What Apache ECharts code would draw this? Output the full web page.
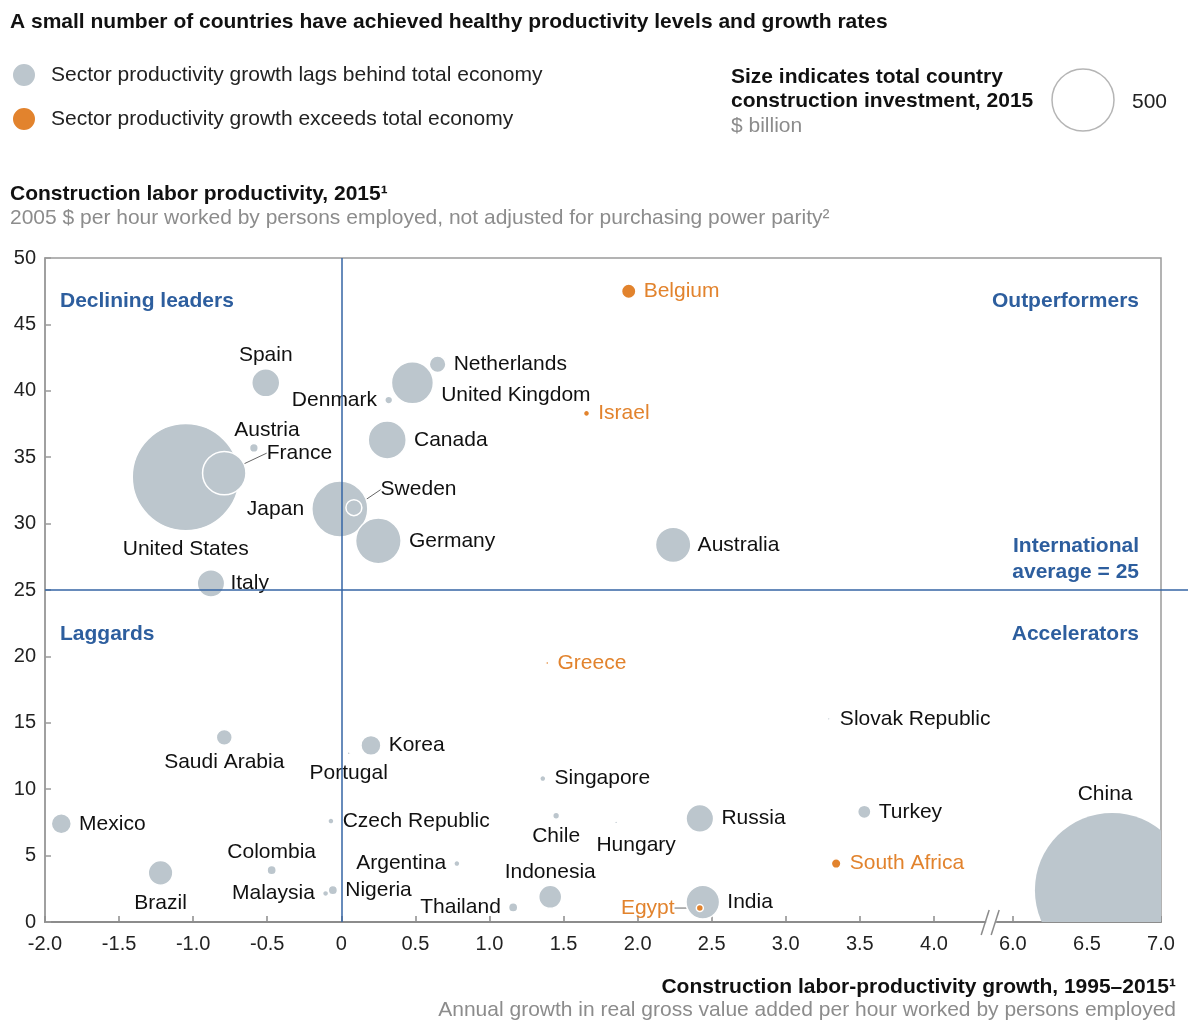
<!DOCTYPE html>
<html>
<head>
<meta charset="utf-8">
<script src="https://cdn.jsdelivr.net/npm/echarts@6/dist/echarts.min.js"></script>
<style>
  html, body { margin: 0; padding: 0; background: #fff; }
  #chart { width: 1200px; height: 1034px; }
</style>
</head>
<body>
<div id="chart"></div>
<script>
// values
var countries = ['United States', 'France', 'Austria', 'Spain', 'Denmark', 'United Kingdom', 'Netherlands',
  'Canada', 'Japan', 'Sweden', 'Germany', 'Italy', 'Australia', 'Slovak Republic', 'Saudi Arabia', 'Korea',
  'Portugal', 'Singapore', 'Mexico', 'Czech Republic', 'Chile', 'Hungary', 'Russia', 'Turkey', 'China',
  'Colombia', 'Argentina', 'Indonesia', 'Brazil', 'Malaysia', 'Nigeria', 'Thailand', 'India',
  'Belgium', 'Israel', 'Greece', 'South Africa', 'Egypt'];
var growth = [-1.05, -0.79, -0.59, -0.51, 0.32, 0.48, 0.65,
  0.31, -0.01, 0.085, 0.25, -0.88, 2.24, 3.29, -0.79, 0.20,
  0.05, 1.36, -1.89, -0.07, 1.45, 1.855, 2.42, 3.53, 6.67,
  -0.47, 0.78, 1.41, -1.22, -0.106, -0.057, 1.16, 2.44,
  1.94, 1.655, 1.39, 3.34, 2.42];
var productivity = [33.5, 33.8, 35.7, 40.6, 39.3, 40.6, 42.0,
  36.3, 31.1, 31.2, 28.7, 25.5, 28.4, 15.3, 13.9, 13.3,
  12.7, 10.8, 7.4, 7.6, 8.0, 7.5, 7.8, 8.3, 2.4,
  3.9, 4.4, 1.9, 3.7, 2.15, 2.4, 1.1, 1.5,
  47.5, 38.3, 19.5, 4.4, 1.05];
var investment = [1490, 245, 10, 102, 8, 229, 36,
  188, 408, 33, 270, 98, 163, 1, 33, 52,
  1.2, 4.7, 52, 4.7, 6, 1, 99, 23, 3100,
  11, 4.7, 69, 79, 4.7, 11, 11, 147,
  27, 4.7, 1.2, 12, 6.4];
// sector productivity growth exceeds total economy
var exceeds = ['Belgium', 'Israel', 'Greece', 'South Africa', 'Egypt'];
var clipped = ['China'];
var xTickValues = [-2, -1.5, -1, -0.5, 0, 0.5, 1, 1.5, 2, 2.5, 3, 3.5, 4, 6, 6.5, 7];
var internationalAverage = 25;
var sizeLegendValue = 500;

var GREY = '#bcc6cd';
var ORANGE = '#e2832d';
var BLUE = '#2d5e9e';
var FONT = '"Liberation Sans", Arial, sans-serif';
var nameGrey = 'Sector productivity growth lags behind total economy';
var nameOrange = 'Sector productivity growth exceeds total economy';

function diam(v) { return 62 * Math.sqrt(v / sizeLegendValue); }

// label placement per country
var labelCfg = {
  'United States': { pos: 'bottom', dist: 7 },
  'France': { pos: 'right', dist: 4, dx: 16, dy: -20, line: true },
  'Austria': { pos: 'top', dist: 2, dx: 13 },
  'Spain': { pos: 'top', dist: 2 },
  'Denmark': { pos: 'left', dist: 5, bg: true },
  'United Kingdom': { pos: 'right', dist: 7, dy: 12 },
  'Netherlands': { pos: 'right', dist: 7 },
  'Canada': { pos: 'right', dist: 7 },
  'Japan': { pos: 'left', dist: 7 },
  'Sweden': { pos: 'right', dist: 4, dx: 14, dy: -18, line: true },
  'Germany': { pos: 'right', dist: 7 },
  'Italy': { pos: 'right', dist: 3, bg: true },
  'Australia': { pos: 'right', dist: 6 },
  'Slovak Republic': { pos: 'right', dist: 9 },
  'Saudi Arabia': { pos: 'bottom', dist: 6 },
  'Korea': { pos: 'right', dist: 7 },
  'Portugal': { pos: 'bottom', dist: 7 },
  'Singapore': { pos: 'right', dist: 8 },
  'Mexico': { pos: 'right', dist: 7 },
  'Czech Republic': { pos: 'right', dist: 8 },
  'Chile': { pos: 'bottom', dist: 6 },
  'Hungary': { pos: 'bottom', dist: 10, dx: 20 },
  'Russia': { pos: 'right', dist: 7 },
  'Turkey': { pos: 'right', dist: 7 },
  'Colombia': { pos: 'top', dist: 2 },
  'Argentina': { pos: 'left', dist: 7 },
  'Indonesia': { pos: 'top', dist: 2 },
  'Brazil': { pos: 'bottom', dist: 7 },
  'Malaysia': { pos: 'left', dist: 7 },
  'Nigeria': { pos: 'right', dist: 7 },
  'Thailand': { pos: 'left', dist: 7 },
  'India': { pos: 'right', dist: 7 },
  'Belgium': { pos: 'right', dist: 7 },
  'Israel': { pos: 'right', dist: 8 },
  'Greece': { pos: 'right', dist: 8 },
  'South Africa': { pos: 'right', dist: 8 },
  'Egypt': { pos: 'left', dist: 4, dx: -17, line: true }
};

function makeItem(i) {
  var n = countries[i];
  var c = labelCfg[n] || { pos: 'right', dist: 7 };
  var item = {
    name: n,
    value: [growth[i], productivity[i], investment[i]],
    label: { position: c.pos, distance: c.dist }
  };
  if (c.bg) { item.label.backgroundColor = '#fff'; item.label.padding = [1, 2]; }
  if (c.line) item.labelLine = { show: true, lineStyle: { color: '#666', width: 1 } };
  return item;
}

var greyData = [], orangeData = [], clipData = [];
countries.forEach(function (n, i) {
  if (clipped.indexOf(n) >= 0) clipData.push({ name: n, value: [growth[i], productivity[i], investment[i]] });
  else if (exceeds.indexOf(n) >= 0) orangeData.push(makeItem(i));
  else greyData.push(makeItem(i));
});
// big bubbles underneath
function bySize(a, b) { return b.value[2] - a.value[2]; }
greyData.sort(bySize);
orangeData.sort(bySize);

function labelLayout(p) {
  var c = labelCfg[p.text];
  if (c && (c.dx || c.dy)) return { dx: c.dx || 0, dy: c.dy || 0 };
  return {};
}

var bubbleSeries = function (name, color, data, labelColor) {
  return {
    name: name,
    type: 'scatter',
    z: 3,
    data: data,
    symbol: 'circle',
    symbolSize: function (v) { return diam(v[2]); },
    itemStyle: { color: color, opacity: 1, borderColor: '#fff', borderWidth: 1.5 },
    label: {
      show: true,
      formatter: '{b}',
      color: labelColor,
      fontFamily: FONT,
      fontSize: 21
    },
    labelLine: { show: false },
    labelLayout: labelLayout,
    emphasis: { disabled: true },
    silent: true
  };
};

var txt = function (text, x, y, opts) {
  var s = {
    text: text, x: x, y: y,
    font: (opts.bold ? 'bold ' : '') + opts.size + 'px ' + FONT,
    fill: opts.color || '#111',
    textAlign: opts.align || 'left',
    textVerticalAlign: 'middle'
  };
  return { type: 'text', silent: true, style: s };
};

var graphics = [
  txt('A small number of countries have achieved healthy productivity levels and growth rates', 10, 22, { bold: true, size: 21 }),
  txt('Size indicates total country', 731, 77, { bold: true, size: 21 }),
  txt('construction investment, 2015', 731, 101, { bold: true, size: 21 }),
  txt('$ billion', 731, 126, { size: 21, color: '#8c8c8c' }),
  {
    type: 'circle', silent: true,
    shape: { cx: 1083, cy: 100, r: diam(sizeLegendValue) / 2 },
    style: { fill: '#fff', stroke: '#b5b5b5', lineWidth: 1.5 }
  },
  txt(String(sizeLegendValue), 1132, 102, { size: 21, color: '#222' }),
  txt('Construction labor productivity, 2015\u00b9', 10, 194, { bold: true, size: 21 }),
  txt('2005 $ per hour worked by persons employed, not adjusted for purchasing power parity\u00b2', 10, 218, { size: 21, color: '#8c8c8c' }),
  txt('Construction labor-productivity growth, 1995\u20132015\u00b9', 1176, 987, { bold: true, size: 21, align: 'right' }),
  txt('Annual growth in real gross value added per hour worked by persons employed', 1176, 1010, { size: 21, color: '#8c8c8c', align: 'right' }),
  txt('Declining leaders', 60, 301, { bold: true, size: 21, color: BLUE }),
  txt('Outperformers', 1139, 301, { bold: true, size: 21, color: BLUE, align: 'right' }),
  txt('International', 1139, 546, { bold: true, size: 21, color: BLUE, align: 'right' }),
  txt('average = 25', 1139, 572, { bold: true, size: 21, color: BLUE, align: 'right' }),
  txt('Laggards', 60, 634, { bold: true, size: 21, color: BLUE }),
  txt('Accelerators', 1139, 634, { bold: true, size: 21, color: BLUE, align: 'right' })
];

var breakStart = 4.36, breakEnd = 5.88;

var option = {
  animation: false,
  backgroundColor: '#fff',
  textStyle: { fontFamily: FONT },
  grid: {
    left: 45, right: 39, top: 258, bottom: 112,
    show: true, borderColor: '#9a9a9a', borderWidth: 1.5
  },
  legend: {
    data: [nameGrey, nameOrange],
    orient: 'vertical',
    left: 11, top: 62,
    padding: 0,
    icon: 'circle',
    itemWidth: 24, itemHeight: 24,
    itemGap: 18,
    selectedMode: false,
    textStyle: { fontSize: 21, lineHeight: 22, color: '#222', fontFamily: FONT, padding: [0, 0, 0, 10] }
  },
  xAxis: {
    type: 'value',
    min: -2, max: 7,
    breaks: [{ start: breakStart, end: breakEnd, gap: '0.7%' }],
    breakArea: { show: false },
    splitLine: { show: false },
    axisLine: { show: true, onZero: false, lineStyle: { color: '#8c8c8c', width: 2 } },
    axisTick: { show: true, inside: true, length: 6, customValues: xTickValues, lineStyle: { color: '#8c8c8c', width: 1.5 } },
    axisLabel: {
      margin: 12, fontSize: 20, color: '#222', fontFamily: FONT,
      customValues: xTickValues,
      formatter: function (v) { return v === 0 ? '0' : Number(v).toFixed(1); }
    }
  },
  yAxis: {
    type: 'value',
    min: 0, max: 50, interval: 5,
    splitLine: { show: false },
    axisLine: { show: true, onZero: false, lineStyle: { color: '#9a9a9a', width: 1.5 } },
    axisTick: { show: true, inside: true, length: 6, lineStyle: { color: '#9a9a9a', width: 1.5 } },
    axisLabel: { margin: 9, fontSize: 20, color: '#222', fontFamily: FONT }
  },
  graphic: graphics,
  series: [
    {
      name: 'quadrants',
      type: 'scatter',
      z: 1,
      data: [],
      silent: true,
      markLine: {
        silent: true,
        symbol: 'none',
        label: { show: false },
        lineStyle: { color: '#3565a5', width: 1.5, type: 'solid' },
        emphasis: { disabled: true },
        data: [{ xAxis: 0 }, { yAxis: internationalAverage }]
      }
    },
    bubbleSeries(nameGrey, GREY, greyData, '#111'),
    {
      name: 'clipped',
      type: 'custom',
      z: 3,
      clip: true,
      silent: true,
      data: clipData,
      renderItem: function (params, api) {
        var c = api.coord([api.value(0), api.value(1)]);
        var r = diam(api.value(2)) / 2;
        return {
          type: 'group',
          children: [
            { type: 'circle', shape: { cx: c[0], cy: c[1], r: r }, style: { fill: GREY } },
            {
              type: 'text',
              style: {
                text: clipData[params.dataIndex].name,
                x: c[0] - 7, y: c[1] - r - 8,
                textAlign: 'center', textVerticalAlign: 'bottom',
                font: '21px ' + FONT, fill: '#111'
              }
            }
          ]
        };
      }
    },
    bubbleSeries(nameOrange, ORANGE, orangeData, ORANGE)
  ]
};

var chart = echarts.init(document.getElementById('chart'));
chart.setOption(option);

// break marks "//" on the x axis, and the average line running past the frame
var bx0 = chart.convertToPixel({ xAxisIndex: 0 }, breakStart);
var bx1 = chart.convertToPixel({ xAxisIndex: 0 }, breakEnd);
var xEnd = chart.convertToPixel({ xAxisIndex: 0 }, 7);
var by = chart.convertToPixel({ yAxisIndex: 0 }, 0);
var avgY = chart.convertToPixel({ yAxisIndex: 0 }, internationalAverage);
var bm = (bx0 + bx1) / 2;
graphics.push(
  { type: 'rect', silent: true, z: 10, shape: { x: bm - 5, y: by - 3, width: 10, height: 6 }, style: { fill: '#fff' } },
  { type: 'line', silent: true, z: 10, shape: { x1: bm - 10, y1: by + 13, x2: bm - 2, y2: by - 12 }, style: { stroke: '#8c8c8c', lineWidth: 1.5 } },
  { type: 'line', silent: true, z: 10, shape: { x1: bm, y1: by + 13, x2: bm + 8, y2: by - 12 }, style: { stroke: '#8c8c8c', lineWidth: 1.5 } },
  { type: 'line', silent: true, z: 1, shape: { x1: xEnd, y1: avgY, x2: xEnd + 27, y2: avgY }, style: { stroke: '#3565a5', lineWidth: 1.5 } }
);
chart.setOption({ graphic: graphics });
</script>
</body>
</html>
